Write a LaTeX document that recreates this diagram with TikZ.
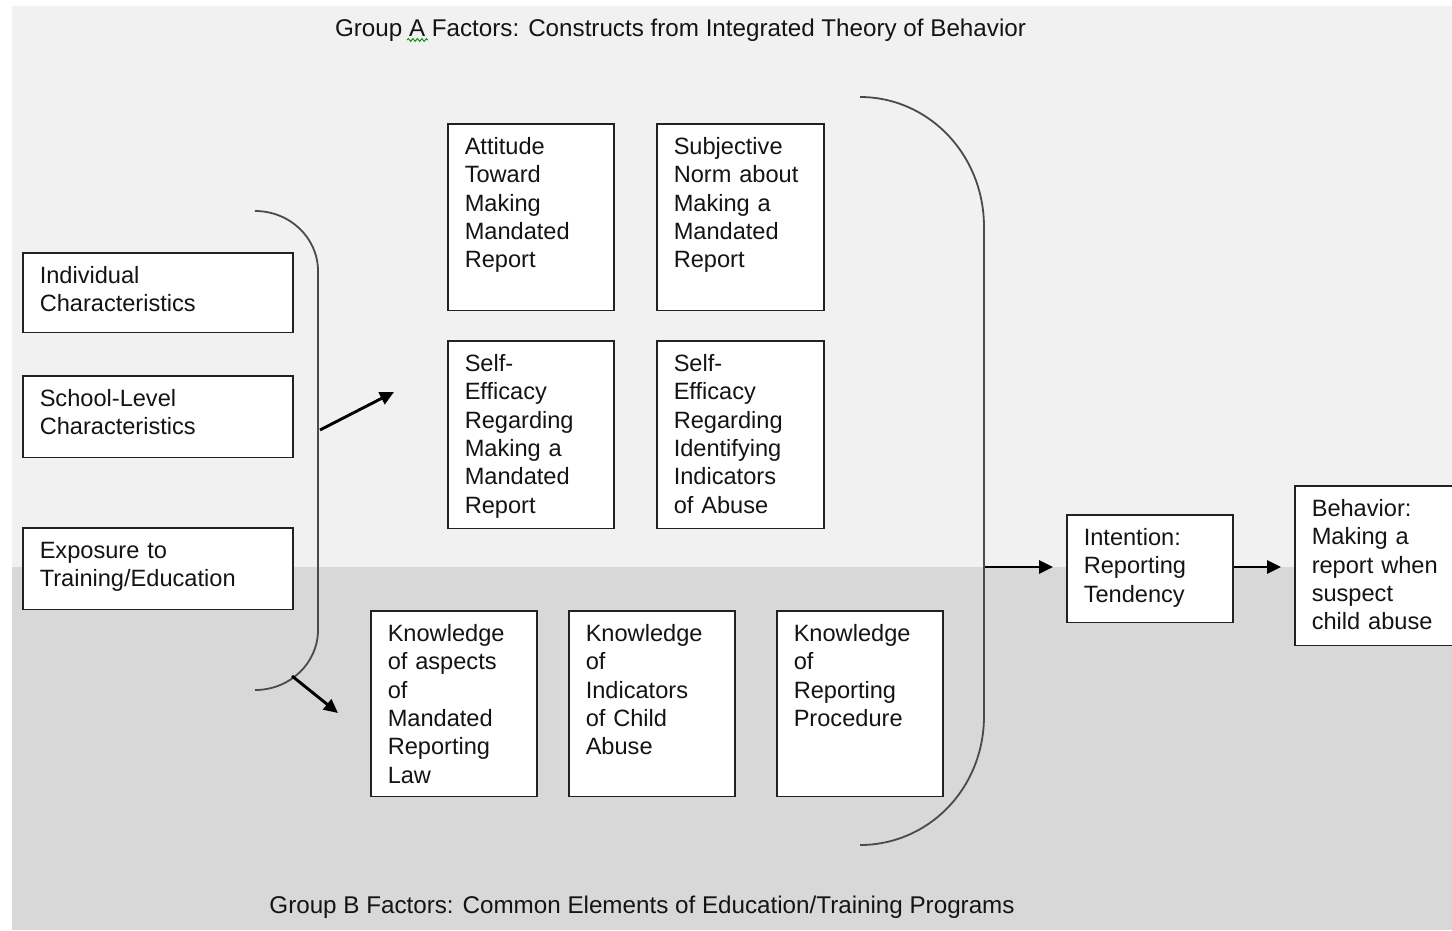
\documentclass[tikz,border=0pt]{standalone}
\usepackage{fontspec}
\setmainfont{Liberation Sans}
\usetikzlibrary{arrows.meta,decorations.pathmorphing}
\definecolor{topbg}{HTML}{F1F1F1}
\definecolor{botbg}{HTML}{D8D8D8}
\definecolor{boxline}{HTML}{222222}
\definecolor{brace}{HTML}{4A4A4A}
\definecolor{txt}{HTML}{141414}
\tikzset{
  bx/.style={draw=boxline, line width=1.5pt, fill=white, anchor=north west,
    inner xsep=17pt, inner ysep=0pt, text height=30.5pt, align=left, text=txt,
    font=\fontsize{23.6}{28.4}\selectfont},
  bracketline/.style={draw=brace, line width=1.8pt},
  flow/.style={draw=black, line width=2.9pt, -{Triangle[length=14pt,width=13pt]}},
  title/.style={text=txt, font=\fontsize{24.2}{28}\selectfont, inner sep=0pt}
}
\begin{document}
\begin{tikzpicture}[x=1pt,y=-1pt]
\useasboundingbox (0,0) rectangle (1452,930);
% backgrounds
\fill[topbg] (12,6) rectangle (1452,567);
\fill[botbg] (12,567) rectangle (1452,930);
% titles
\node[title] (tA) at (680.5,30) {Group A Factors: Constructs from Integrated Theory of Behavior};
\draw[green!55!black, line width=0.9pt, decorate, decoration={snake, amplitude=1.4pt, segment length=4.5pt}] (407,40) -- (428,40);
\node[title] (tB) at (642,907.5) {Group B Factors: Common Elements of Education/Training Programs};
% left boxes
\node[bx, text width=236pt, text depth=49pt] (ind) at (22,252) {Individual\\Characteristics};
\node[bx, text width=236pt, text depth=51pt] (sch) at (22,375) {School-Level\\Characteristics};
\node[bx, text width=236pt, text depth=51pt] (exp) at (22,527) {Exposure to\\Training/Education};
% group A
\node[bx, text width=132pt, text depth=156pt] (att) at (447,123) {Attitude\\Toward\\Making\\Mandated\\Report};
\node[bx, text width=133pt, text depth=156pt] (sub) at (656,123) {Subjective\\Norm about\\Making a\\Mandated\\Report};
\node[bx, text width=132pt, text depth=157pt] (se1) at (447,340) {Self-\\Efficacy\\Regarding\\Making a\\Mandated\\Report};
\node[bx, text width=133pt, text depth=157pt] (se2) at (656,340) {Self-\\Efficacy\\Regarding\\Identifying\\Indicators\\of Abuse};
% group B
\node[bx, text width=132pt, text depth=155pt] (k1) at (370,610) {Knowledge\\of aspects\\of\\Mandated\\Reporting\\Law};
\node[bx, text width=132pt, text depth=155pt] (k2) at (568,610) {Knowledge\\of\\Indicators\\of Child\\Abuse};
\node[bx, text width=132pt, text depth=155pt] (k3) at (776,610) {Knowledge\\of\\Reporting\\Procedure};
% outcome boxes
\node[bx, text width=132pt, text depth=77pt] (int) at (1066,514) {Intention:\\Reporting\\Tendency};
\node[bx, text width=136pt, text depth=129pt] (beh) at (1294,485) {Behavior:\\Making a\\report when\\suspect\\child abuse};
% left bracket
\draw[bracketline] (255,211) .. controls (290,211) and (318,238) .. (318,271)
  -- (318,630) .. controls (318,663) and (290,690) .. (255,690);
% right bracket
\draw[bracketline] (860,97) .. controls (928,97) and (984,154) .. (984,227)
  -- (984,716) .. controls (984,789) and (928,845) .. (860,845);
% arrows
\coordinate (la1s) at (320,430);
\coordinate (la1e) at (394,392);
\coordinate (la2s) at (292,676);
\coordinate (la2e) at (338,713);
\coordinate (ra) at (985,567);
\coordinate (raE) at (1053,567);
\coordinate (intE) at (int.east |- ra);
\coordinate (behW) at (1281,567);
\draw[flow] (la1s) -- (la1e);
\draw[flow] (la2s) -- (la2e);
\draw[flow] (ra) -- (raE);
\draw[flow] (intE) -- (behW);
\end{tikzpicture}
\end{document}
